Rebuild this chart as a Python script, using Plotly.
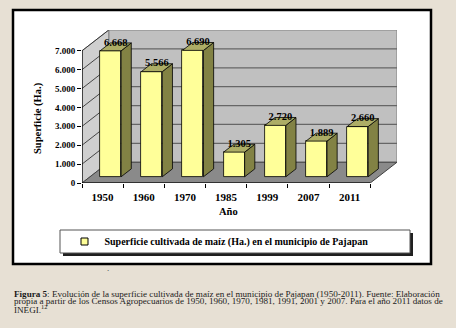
import plotly.graph_objects as go

# ---------------- data ----------------
years = ["1950", "1960", "1970", "1985", "1999", "2007", "2011"]
values = [6668, 5566, 6690, 1305, 2720, 1889, 2660]
value_labels = ["6.668", "5.566", "6.690", "1.305", "2.720", "1.889", "2.660"]
y_tickvals = [0, 1000, 2000, 3000, 4000, 5000, 6000, 7000]
y_ticktext = ["0", "1.000", "2.000", "3.000", "4.000", "5.000", "6.000", "7.000"]
series_name = "Superficie cultivada de maíz (Ha.) en el municipio de Pajapan"
caption_lines = [
    "<b>Figura 5</b>: Evolución de la superficie cultivada de maíz en el municipio de Pajapan (1950-2011). Fuente: Elaboración",
    "propia a partir de los Censos Agropecuarios de 1950, 1960, 1970, 1981, 1991, 2001 y 2007. Para el año 2011 datos de",
    "INEGI.<sup>12</sup>",
]

# ---------------- geometry (3D look) ----------------
W, H = 456, 328
L, R, T, B = 82, 59, 30, 145
PW, PH = W - L - R, H - T - B
DX, DY = 0.65, 1100          # depth offset in axis units
YMAX = 7000
F1, F2 = 0.30, 0.68          # bar depth (front/back) fractions
BW = 0.51                    # bar width
n = len(values)

def px(xp):
    return (xp - L) / PW

def py(yp):
    return (H - B - yp) / PH

SERIF = "Liberation Serif"
BG = "#e7e0d4"

fig = go.Figure()

# front faces
xf = [i + F1 * DX for i in range(n)]
fig.add_trace(go.Bar(
    x=xf, y=values, base=F1 * DY, width=BW,
    marker=dict(color="#ffff99", line=dict(color="#000000", width=0.8)),
    showlegend=False, hoverinfo="skip"))

# top and side faces
tx, ty, sx, sy = [], [], [], []
for i, v in enumerate(values):
    a, b = i + F1 * DX, i + F2 * DX
    h = BW / 2
    tx += [a - h, a + h, b + h, b - h, a - h, None]
    ty += [v + F1 * DY, v + F1 * DY, v + F2 * DY, v + F2 * DY, v + F1 * DY, None]
    sx += [a + h, b + h, b + h, a + h, a + h, None]
    sy += [F1 * DY, F2 * DY, v + F2 * DY, v + F1 * DY, F1 * DY, None]
fig.add_trace(go.Scatter(x=sx, y=sy, mode="lines", fill="toself",
                         fillcolor="#828244", line=dict(color="#000000", width=0.8),
                         showlegend=False, hoverinfo="skip"))
fig.add_trace(go.Scatter(x=tx, y=ty, mode="lines", fill="toself",
                         fillcolor="#adad66", line=dict(color="#000000", width=0.8),
                         showlegend=False, hoverinfo="skip"))

# value labels
fig.add_trace(go.Scatter(
    x=[i + (F1 + F2) / 2 * DX for i in range(n)],
    y=[v + F2 * DY for v in values],
    mode="text", text=value_labels, textposition="middle center",
    textfont=dict(family=SERIF, size=10.5, color="#000000", weight="bold"),
    cliponaxis=False, showlegend=False, hoverinfo="skip"))

# legend entry
fig.add_trace(go.Scatter(
    x=[None], y=[None], mode="markers", name=series_name,
    marker=dict(symbol="square", size=7, color="#ffff99",
                line=dict(color="#000000", width=1))))

shapes = []
# chart white box
shapes.append(dict(type="rect", xref="paper", yref="paper",
                   x0=px(13), x1=px(431), y0=py(264), y1=py(10),
                   fillcolor="#ffffff", line=dict(color="#000000", width=2.5),
                   layer="below"))
# legend box shadow and box
shapes.append(dict(type="rect", xref="paper", yref="paper",
                   x0=px(63), x1=px(413), y0=py(256), y1=py(233),
                   fillcolor="#202020", line=dict(width=0), layer="below"))
shapes.append(dict(type="rect", xref="paper", yref="paper",
                   x0=px(60), x1=px(410), y0=py(253), y1=py(230),
                   fillcolor="#ffffff", line=dict(color="#555555", width=1),
                   layer="below"))
# back wall
x_l, x_r = -0.5, n - 0.5
shapes.append(dict(type="rect", xref="x", yref="y",
                   x0=x_l + DX, x1=x_r + DX, y0=DY, y1=YMAX + DY,
                   fillcolor="#c0c0c0", line=dict(color="#808080", width=1),
                   layer="below"))
# side wall
shapes.append(dict(type="path", xref="x", yref="y",
                   path=f"M {x_l},0 L {x_l},{YMAX} L {x_l+DX},{YMAX+DY} L {x_l+DX},{DY} Z",
                   fillcolor="#cfcfcf", line=dict(color="#808080", width=1),
                   layer="below"))
# floor
shapes.append(dict(type="path", xref="x", yref="y",
                   path=f"M {x_l},0 L {x_r},0 L {x_r+DX},{DY} L {x_l+DX},{DY} Z",
                   fillcolor="#8a8a8a", line=dict(color="#404040", width=1),
                   layer="below"))
# gridlines on back wall and side wall
for v in y_tickvals[1:]:
    if v < YMAX:
        shapes.append(dict(type="line", xref="x", yref="y",
                           x0=x_l + DX, x1=x_r + DX, y0=v + DY, y1=v + DY,
                           line=dict(color="#666666", width=1.2), layer="below"))
    shapes.append(dict(type="line", xref="x", yref="y",
                       x0=x_l, x1=x_l + DX, y0=v, y1=v + DY,
                       line=dict(color="#222222", width=0.8), layer="below"))
# front axes
shapes.append(dict(type="line", xref="x", yref="y", x0=x_l, x1=x_l, y0=0, y1=YMAX,
                   line=dict(color="#000000", width=1.2)))
shapes.append(dict(type="line", xref="x", yref="y", x0=x_l, x1=x_r, y0=0, y1=0,
                   line=dict(color="#000000", width=1.2)))

annotations = [
    dict(text="<b>Año</b>", xref="paper", yref="paper", x=px(228), y=py(211),
         xanchor="center", yanchor="middle",
         showarrow=False, font=dict(family=SERIF, size=10.5, color="#000000")),
    dict(text="<b>Superficie (Ha.)</b>", xref="paper", yref="paper", x=px(38), y=py(118),
         xanchor="center", yanchor="middle",
         showarrow=False, textangle=-90, font=dict(family=SERIF, size=10.5, color="#000000")),
    dict(text=".", xref="paper", yref="paper", x=px(108), y=py(268),
         xanchor="center", yanchor="middle",
         showarrow=False, font=dict(family=SERIF, size=9, color="#333333")),
]
for k, line in enumerate(caption_lines):
    annotations.append(dict(text=line, xref="paper", yref="paper",
                            x=px(12), y=py(293.5 + 7.5 * k), xanchor="left", yanchor="middle",
                            showarrow=False,
                            font=dict(family=SERIF, size=9.1, color="#1a1a1a")))

fig.update_layout(
    width=W, height=H, autosize=False,
    margin=dict(l=L, r=R, t=T, b=B, pad=0, autoexpand=False),
    paper_bgcolor=BG, plot_bgcolor="rgba(0,0,0,0)",
    shapes=shapes, annotations=annotations,
    showlegend=True,
    legend=dict(orientation="h", x=px(219), y=py(241.5), xanchor="center", yanchor="middle",
                bgcolor="rgba(0,0,0,0)", borderwidth=0,
                font=dict(family=SERIF, size=10, color="#000000", weight="bold")),
    xaxis=dict(range=[x_l, x_r + DX], showgrid=False, zeroline=False, showline=False,
               tickmode="array", tickvals=list(range(n)), ticktext=years,
               ticks="outside", ticklen=4, tickcolor="rgba(0,0,0,0)",
               tickfont=dict(family=SERIF, size=11, color="#000000", weight="bold"),
               minor=dict(tickmode="array", tickvals=[i - 0.5 for i in range(n + 1)],
                          ticks="outside", ticklen=4, tickcolor="#000000", showgrid=False),
               fixedrange=True),
    yaxis=dict(range=[0, YMAX + DY], showgrid=False, zeroline=False, showline=False,
               tickmode="array", tickvals=y_tickvals, ticktext=y_ticktext,
               ticks="outside", ticklen=4, tickcolor="#000000",
               tickfont=dict(family=SERIF, size=9, color="#000000", weight="bold"),
               fixedrange=True),
    bargap=0,
)

fig.write_html(
    "out.html",
    config={"displayModeBar": False},
    post_script=f"document.body.style.margin='0';document.body.style.background='{BG}';",
)
